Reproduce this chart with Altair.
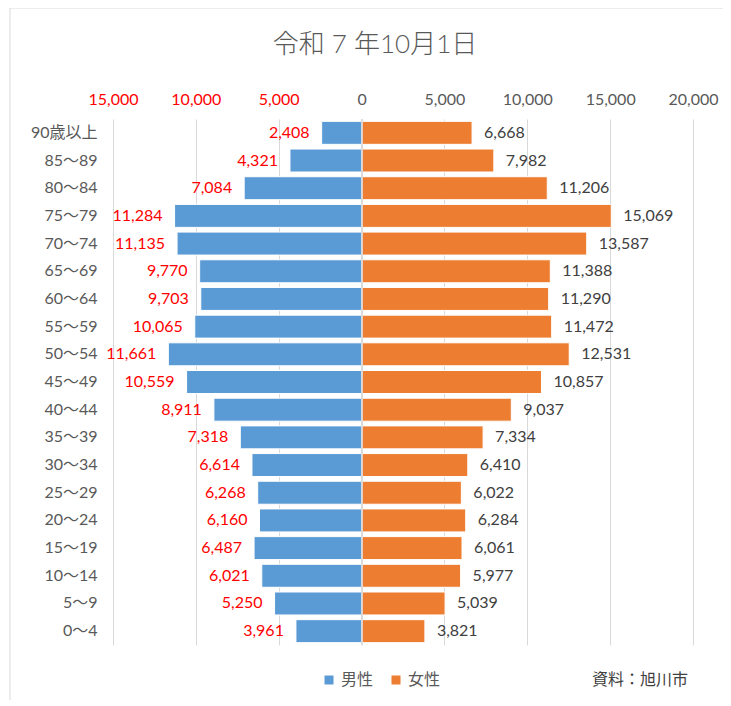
import altair as alt
import pandas as pd

ages = ["0～4", "5～9", "10～14", "15～19", "20～24", "25～29", "30～34", "35～39",
        "40～44", "45～49", "50～54", "55～59", "60～64", "65～69", "70～74",
        "75～79", "80～84", "85～89", "90歳以上"]
male = [3961, 5250, 6021, 6487, 6160, 6268, 6614, 7318, 8911, 10559, 11661,
        10065, 9703, 9770, 11135, 11284, 7084, 4321, 2408]
female = [3821, 5039, 5977, 6061, 6284, 6022, 6410, 7334, 9037, 10857, 12531,
          11472, 11290, 11388, 13587, 15069, 11206, 7982, 6668]
sexes = ["男性", "女性"]
colors = ["#5B9BD5", "#ED7D31"]
tick_values = [-15000, -10000, -5000, 0, 5000, 10000, 15000, 20000]
title_text = "令和 7 年10月1日"
source_text = "資料：旭川市"

rows = []
for a, m, f in zip(ages, male, female):
    rows.append({"age": a, "sex": "男性", "value": m, "signed": -m})
    rows.append({"age": a, "sex": "女性", "value": f, "signed": f})
df = pd.DataFrame(rows)

FONT = "Lato, 'Noto Sans CJK JP', sans-serif"
JFONT = "'Noto Sans CJK JP', sans-serif"
W, H = 580, 526
order = list(reversed(ages))

xscale = alt.Scale(domain=[-15000, 20000], nice=False, zero=False)
yscale = alt.Scale(paddingInner=0.17, paddingOuter=0.085)

xaxis = alt.Axis(orient="top", values=tick_values, title=None,
                 domain=False, ticks=False, grid=True,
                 gridColor="#d9d9d9", gridWidth=1,
                 labelFlush=False, labelOverlap=False,
                 labelExpr="format(abs(datum.value), ',')",
                 labelColor={"condition": {"test": "datum.value < 0", "value": "#FF0000"},
                             "value": "#595959"},
                 labelFontSize=16, labelFont=FONT, labelPadding=12)
yaxis = alt.Axis(title=None, domain=False, ticks=False, grid=False,
                 labelFontSize=16, labelFont=FONT, labelColor="#595959",
                 labelPadding=16)

base = alt.Chart(df)

bars = base.mark_bar(stroke="white", strokeWidth=1).encode(
    x=alt.X("signed:Q", scale=xscale, axis=xaxis),
    y=alt.Y("age:N", sort=order, scale=yscale, axis=yaxis),
    color=alt.Color("sex:N", scale=alt.Scale(domain=sexes, range=colors),
                    legend=alt.Legend(title=None, orient="none", direction="horizontal",
                                      legendX=208, legendY=553,
                                      symbolType="square", symbolSize=81,
                                      symbolStrokeWidth=0,
                                      labelFontSize=16, labelFont=JFONT,
                                      labelColor="#595959", columnPadding=14,
                                      labelOffset=4)),
)

zero = base.mark_rule(color="#d9d9d9", strokeWidth=1).encode(
    x=alt.value(W * 15000 / 35000),
    y=alt.value(0), y2=alt.value(H))

male_lbl = base.transform_filter("datum.sex == '男性'").mark_text(
    align="right", baseline="middle", dx=-12, fontSize=16, font=FONT, color="#FF0000"
).encode(x=alt.X("signed:Q", scale=xscale, axis=xaxis),
         y=alt.Y("age:N", sort=order, scale=yscale, axis=yaxis),
         text=alt.Text("value:Q", format=","))

female_lbl = base.transform_filter("datum.sex == '女性'").mark_text(
    align="left", baseline="middle", dx=12, fontSize=16, font=FONT, color="#404040"
).encode(x=alt.X("signed:Q", scale=xscale, axis=xaxis),
         y=alt.Y("age:N", sort=order, scale=yscale, axis=yaxis),
         text=alt.Text("value:Q", format=","))

title = alt.Chart(pd.DataFrame({"t": [title_text]})).mark_text(
    fontSize=26, font=FONT, color="#595959", align="center", baseline="middle",
    fontWeight=300
).encode(text="t:N", x=alt.value(262), y=alt.value(-74))

source = alt.Chart(pd.DataFrame({"t": [source_text]})).mark_text(
    fontSize=16, font=JFONT, color="#404040", align="right", baseline="middle"
).encode(text="t:N", x=alt.value(575), y=alt.value(561))

frame_left = alt.Chart(pd.DataFrame({"d": [0]})).mark_rule(color="#d9d9d9").encode(
    x=alt.value(-103), y=alt.value(-111), y2=alt.value(600))
frame_top = alt.Chart(pd.DataFrame({"d": [0]})).mark_rule(color="#d9d9d9").encode(
    x=alt.value(-103), x2=alt.value(640), y=alt.value(-111))

chart = alt.layer(bars, zero, male_lbl, female_lbl, title, source, frame_left, frame_top).properties(
    width=W, height=H, autosize="none",
    padding={"left": 105, "top": 111, "right": 30, "bottom": 55},
    view=alt.ViewBackground(stroke="transparent", strokeOpacity=0, strokeWidth=0),
).configure_view(stroke="transparent", strokeOpacity=0, strokeWidth=0).configure(background="white")

chart.save("out.html", embed_options={"renderer": "svg", "actions": False})
